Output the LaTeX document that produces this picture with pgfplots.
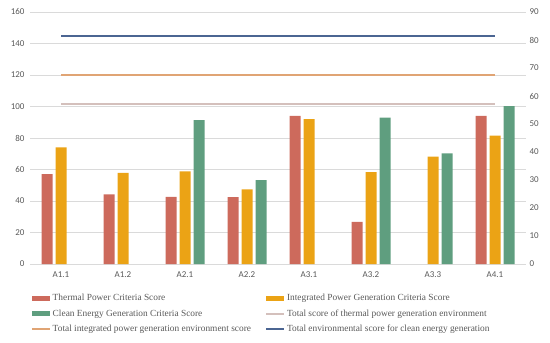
\documentclass[border=0pt]{standalone}
\usepackage{pgfplots}
\pgfplotsset{compat=1.18}
\usepackage{fontspec}
\setmainfont{Liberation Serif}
\newfontfamily\tickfont{Carlito}
\definecolor{thermal}{HTML}{CD6A5C}
\definecolor{integ}{HTML}{EBA315}
\definecolor{clean}{HTML}{5F9E7F}
\definecolor{tthermal}{HTML}{D4C0BC}
\definecolor{tinteg}{HTML}{E0A474}
\definecolor{tclean}{HTML}{4B6592}
\definecolor{gridc}{HTML}{DADADA}
\definecolor{tickc}{HTML}{595959}
\begin{document}
\begin{tikzpicture}
\pgfplotsset{
  barleg/.style={legend image code/.code={\fill[##1] (0bp,-2.5bp) rectangle (18bp,2.5bp);}},
  lineleg/.style={legend image code/.code={\draw[##1] (0bp,0bp) -- (18bp,0bp);}},
}
\begin{axis}[name=main, scale only axis, width=496bp, height=252bp,
  xmin=-0.5, xmax=7.5, ymin=0, ymax=160, ytick={0,20,...,160},
  xtick={0,...,7}, xticklabels={A1.1,A1.2,A2.1,A2.2,A3.1,A3.2,A3.3,A4.1},
  axis line style={draw=none}, ymajorgrids, grid style={gridc, line width=0.8pt},
  major tick length=0pt,
  /pgf/number format/assume math mode=true,
  tick label style={font=\tickfont\fontsize{9}{10}\selectfont, text=tickc},
  yticklabel style={xshift=-2bp},
  xticklabel style={yshift=-4bp},
  legend style={at={(0.466,-0.103)}, anchor=north, draw=none, fill=none,
    font=\fontsize{9.4}{11}\selectfont, text=tickc,
    /tikz/every even column/.append style={column sep=12bp},
    row sep=3.5bp},
  legend columns=2, legend cell align=left,
]
\addplot[barleg, ybar, bar width=11bp, bar shift=-14bp, fill=thermal, draw=none] coordinates {
 (0,57) (1,44.2) (2,42.7) (3,42.5) (4,94) (5,26.7) (7,94)};
\addlegendentry{Thermal Power Criteria Score}
\addplot[barleg, ybar, bar width=11bp, bar shift=0bp, fill=integ, draw=none] coordinates {
 (0,74) (1,57.8) (2,58.8) (3,47.4) (4,92) (5,58.4) (6,68.1) (7,81.5)};
\addlegendentry{Integrated Power Generation Criteria Score}
\addplot[barleg, ybar, bar width=11bp, bar shift=14bp, fill=clean, draw=none] coordinates {
 (2,91.4) (3,53.3) (5,93) (6,70.3) (7,100.3)};
\addlegendentry{Clean Energy Generation Criteria Score}
\addplot[lineleg, tthermal, line width=2bp, mark=none] coordinates {
 (0,101.5) (1,101.5) (2,101.5) (3,101.5) (4,101.5) (5,101.5) (6,101.5) (7,101.5)};
\addlegendentry{Total score of thermal power generation environment}
\addplot[lineleg, tinteg, line width=2bp, mark=none] coordinates {
 (0,120) (1,120) (2,120) (3,120) (4,120) (5,120) (6,120) (7,120)};
\addlegendentry{Total integrated power generation environment score}
\addplot[lineleg, tclean, line width=2bp, mark=none] coordinates {
 (0,145) (1,145) (2,145) (3,145) (4,145) (5,145) (6,145) (7,145)};
\addlegendentry{Total environmental score for clean energy generation}
\end{axis}
\begin{axis}[scale only axis, width=496bp, height=252bp,
  xmin=-0.5, xmax=7.5, ymin=0, ymax=90, ytick={0,10,...,90},
  axis y line*=right, hide x axis, axis line style={draw=none},
  major tick length=0pt,
  /pgf/number format/assume math mode=true,
  tick label style={font=\tickfont\fontsize{9}{10}\selectfont, text=tickc},
]
\addplot[draw=none] coordinates {(0,0)};
\end{axis}
\pgfresetboundingbox
\path ([xshift=-30bp,yshift=-78bp]main.south west) rectangle ([xshift=24bp,yshift=12bp]main.north east);
\end{tikzpicture}
\end{document}
